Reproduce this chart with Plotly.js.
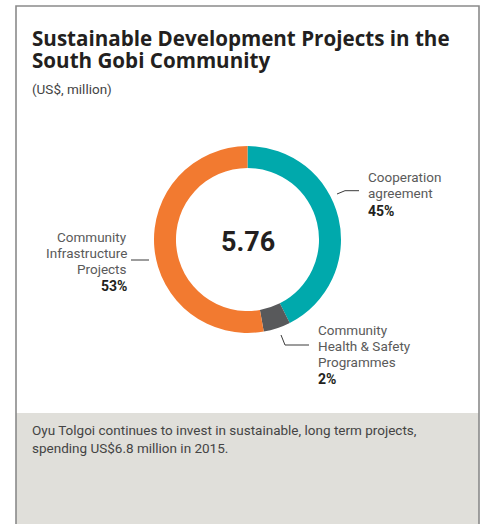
<!DOCTYPE html>
<html>
<head>
<meta charset="utf-8">
<script src="https://cdn.plot.ly/plotly-3.0.1.min.js"></script>
<style>
html,body{margin:0;padding:0;background:#fff;}
#chart{width:489px;height:524px;}
</style>
</head>
<body>
<div id="chart"></div>
<script>
// Data (US$ million), drawn order: clockwise from 12 o'clock
const categories = ["Cooperation agreement", "Community Health & Safety Programmes", "Community Infrastructure Projects"];
const values = [2.45, 0.27, 3.04];
const pctLabels = ["45%", "2%", "53%"];
const labelLines = [["Cooperation", "agreement"], ["Community", "Health & Safety", "Programmes"], ["Community", "Infrastructure", "Projects"]];
const titleLines = ["Sustainable Development Projects in the", "South Gobi Community"];
const colors = ["#00A9AC", "#58595B", "#F27A30"];
const totalLabel = "5.76";

const W = 489, H = 524;
const cx = 247.5, cy = 239.5, R = 93.5;
const FONT = "Roboto, 'Open Sans', sans-serif";
const TFONT = "'Open Sans', Roboto, sans-serif";

const trace = {
  type: "pie",
  values: values,
  labels: categories,
  marker: {colors: colors, line: {width: 0}},
  hole: 0.765,
  sort: false,
  direction: "clockwise",
  rotation: 0,
  textinfo: "none",
  hoverinfo: "label+value",
  showlegend: false,
  domain: {x: [(cx - R) / W, (cx + R) / W], y: [(H - cy - R) / H, (H - cy + R) / H]}
};

const lineStyle = {color: "#3a3a3a", width: 1};
const shapes = [
  {type: "rect", xref: "x", yref: "y", x0: 16, x1: 479, y0: 413, y1: 530, fillcolor: "#E0DFDA", line: {width: 0}, layer: "below"},
  {type: "path", xref: "x", yref: "y", path: "M16,530 L16,6 L479,6 L479,530", line: {color: "#8a8a8a", width: 1.6}},
  {type: "path", xref: "x", yref: "y", path: "M337,194 L345,190.7 L359,190.7", line: lineStyle},
  {type: "path", xref: "x", yref: "y", path: "M281,335 L285,345 L309,345", line: lineStyle},
  {type: "path", xref: "x", yref: "y", path: "M131,260 L149,260", line: lineStyle}
];

function ann(text, x, y, xanchor, size, color, family, yanchor) {
  return {xref: "x", yref: "y", x: x, y: y, text: text, showarrow: false,
    xanchor: xanchor, yanchor: yanchor || "middle", align: xanchor === "right" ? "right" : "left",
    borderpad: 0,
    font: {family: family || FONT, size: size, color: color}};
}

const LBL = "#5a5a5a", DARK = "#231F20";
// Title: line spacing driven by the annotation font size (17px -> ~22px lines), glyphs at 20.6px
const titleText = titleLines.map(t => '<span style="font-size:20.6px"><b>' + t + '</b></span>').join("<br>");
const annotations = [
  ann(titleText, 31, 48.5, "left", 17, DARK, TFONT),
  ann("(US$, million)", 31, 89, "left", 13.5, "#444444"),
  ann("<b>" + totalLabel + "</b>", cx, 242, "center", 27, DARK),
  ann(labelLines[0][0], 367, 177, "left", 13.5, LBL),
  ann(labelLines[0][1], 367, 193, "left", 13.5, LBL),
  ann("<b>" + pctLabels[0] + "</b>", 367, 211, "left", 14, DARK),
  ann(labelLines[1][0], 317, 330, "left", 13.5, LBL),
  ann(labelLines[1][1], 317, 346, "left", 13.5, LBL),
  ann(labelLines[1][2], 317, 362, "left", 13.5, LBL),
  ann("<b>" + pctLabels[1] + "</b>", 317, 379, "left", 14, DARK),
  ann(labelLines[2][0], 128, 237, "right", 13.5, LBL),
  ann(labelLines[2][1], 128, 253, "right", 13.5, LBL),
  ann(labelLines[2][2], 128, 269, "right", 13.5, LBL),
  ann("<b>" + pctLabels[2] + "</b>", 128, 286, "right", 14, DARK),
  ann("Oyu Tolgoi continues to invest in sustainable, long term projects,", 31, 430, "left", 13.5, "#444444"),
  ann("spending US$6.8 million in 2015.", 31, 448, "left", 13.5, "#444444")
];

const layout = {
  width: W, height: H,
  margin: {l: 0, r: 0, t: 0, b: 0, pad: 0},
  paper_bgcolor: "#ffffff", plot_bgcolor: "rgba(0,0,0,0)",
  xaxis: {range: [0, W], visible: false, fixedrange: true},
  yaxis: {range: [H, 0], visible: false, fixedrange: true},
  shapes: shapes,
  annotations: annotations,
  showlegend: false
};

Plotly.newPlot("chart", [trace], layout, {displayModeBar: false, staticPlot: true});
</script>
</body>
</html>
